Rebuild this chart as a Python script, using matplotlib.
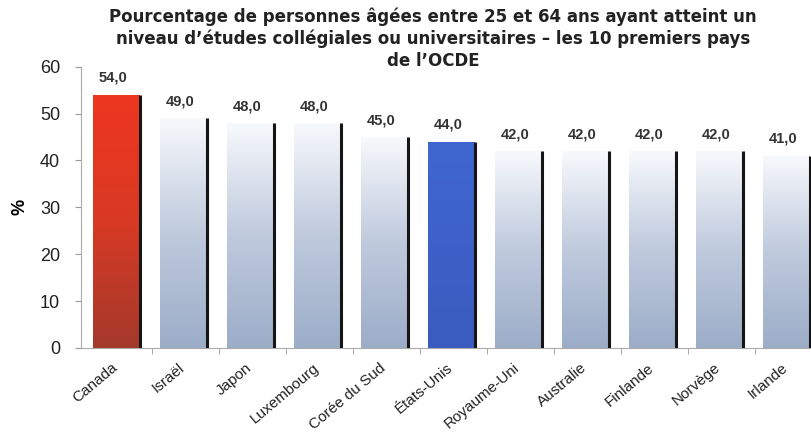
import numpy as np
import matplotlib
matplotlib.use("Agg")
import matplotlib.pyplot as plt
import matplotlib.transforms as mtransforms
from matplotlib.colors import LinearSegmentedColormap

plt.rcParams['font.family'] = ['Liberation Sans', 'DejaVu Sans']

pays = ["Canada", "Israël", "Japon", "Luxembourg", "Corée du Sud", "États-Unis",
        "Royaume-Uni", "Australie", "Finlande", "Norvège", "Irlande"]
valeurs = [54.0, 49.0, 48.0, 48.0, 45.0, 44.0, 42.0, 42.0, 42.0, 42.0, 41.0]
titre = ("Pourcentage de personnes âgées entre 25 et 64 ans ayant atteint un\n"
         "niveau d\u2019études collégiales ou universitaires \u2013 les 10 premiers pays\n"
         "de l\u2019OCDE")

# gradients (bottom -> top)
cm_gris = LinearSegmentedColormap.from_list("g", [(0, "#9cadc8"), (0.5, "#bfcadd"), (1, "#f7f9fc")])
cm_rouge = LinearSegmentedColormap.from_list("r", [(0, "#a4392b"), (0.5, "#d83a24"), (1, "#ee3620")])
cm_bleu = LinearSegmentedColormap.from_list("b", [(0, "#3a5cc0"), (1, "#4066d0")])

fig = plt.figure(figsize=(8.11, 4.34), dpi=100)
ax = fig.add_axes([81/811, 86/434, 1 - 81/811, (348 - 66.7)/434])

x = np.arange(len(pays))
w = 0.70
bars = ax.bar(x - 0.03, valeurs, width=w, facecolor="none", edgecolor="none", zorder=2)
grad = np.linspace(0, 1, 256).reshape(-1, 1)
for i, b in enumerate(bars):
    cmap = cm_gris
    if pays[i] == "Canada":
        cmap = cm_rouge
    elif pays[i] == "États-Unis":
        cmap = cm_bleu
    x0 = b.get_x()
    im = ax.imshow(grad, cmap=cmap, origin="lower", aspect="auto",
                   extent=[x0, x0 + w, 0, valeurs[i]], zorder=2)
    im.set_clip_path(b)
    # dark edge on the right side
    ax.plot([x0 + w, x0 + w], [0, valeurs[i]], color="#151515", lw=2.2, zorder=3,
            solid_capstyle="butt")
    ax.text(x0 + w/2 - 0.05, valeurs[i] + 2.1, f"{valeurs[i]:.1f}".replace(".", ","),
            ha="center", va="bottom", fontsize=10.5, fontweight="bold", color="#333333")

ax.set_xlim(-0.56, 10.34)
ax.set_ylim(0, 60)
ax.set_yticks(range(0, 61, 10))
ax.tick_params(axis="y", labelsize=13, length=4, color="#999999", labelcolor="#222222", pad=11)
ax.set_xticks(x)
ax.set_xticklabels(pays, rotation=40, ha="right", rotation_mode="anchor", fontsize=11, color="#222222")
ax.tick_params(axis="x", which="major", length=0, pad=9)
shift = mtransforms.ScaledTranslation(-7/100, 0, fig.dpi_scale_trans)
for lab in ax.get_xticklabels():
    lab.set_transform(lab.get_transform() + shift)
ax.set_xticks(x[:-1] + 0.5, minor=True)
ax.tick_params(axis="x", which="minor", length=4, color="#999999")

for s in ["top", "right"]:
    ax.spines[s].set_visible(False)
ax.spines["left"].set_color("#aaaaaa")
ax.spines["bottom"].set_color("#aaaaaa")

ax.set_ylabel("%", fontsize=13, fontweight="bold", labelpad=8)
fig.text(433/811, 0.982, titre, ha="center", va="top", fontsize=12, fontweight="bold",
         color="#222222", linespacing=1.25, family="DejaVu Sans")

fig.savefig("out.png", dpi=100)
